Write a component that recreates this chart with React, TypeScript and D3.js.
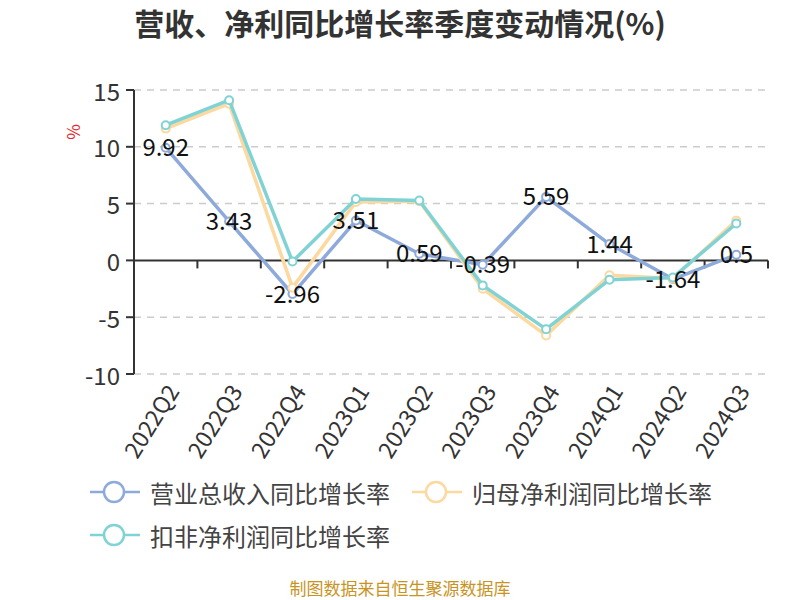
import { line, scaleBand, scaleLinear } from 'd3'

const quarters = ['2022Q2', '2022Q3', '2022Q4', '2023Q1', '2023Q2', '2023Q3', '2023Q4', '2024Q1', '2024Q2', '2024Q3']
const revenueGrowth = [9.92, 3.43, -2.96, 3.51, 0.59, -0.39, 5.59, 1.44, -1.64, 0.5]
const netProfitGrowth = [11.6, 13.8, -2.4, 5.15, 5.2, -2.5, -6.6, -1.3, -1.6, 3.5]
const deductedProfitGrowth = [11.9, 14.1, -0.1, 5.4, 5.27, -2.2, -6.05, -1.7, -1.5, 3.25]
const yTicks = [15, 10, 5, 0, -5, -10]

const seriesList = [
  { name: '营业总收入同比增长率', values: revenueGrowth, color: '#8eaadb' },
  { name: '归母净利润同比增长率', values: netProfitGrowth, color: '#fdd89f' },
  { name: '扣非净利润同比增长率', values: deductedProfitGrowth, color: '#80d3d5' },
]

const FONT = '"Noto Sans CJK SC", "Noto Sans", sans-serif'

export default function App() {
  const width = 800
  const height = 600
  const left = 134
  const right = 768
  const top = 90
  const bottom = 374

  const xScale = scaleBand<string>().domain(quarters).range([left, right])
  const yScale = scaleLinear().domain([-10, 15]).range([bottom, top])
  const cx = (i: number) => (xScale(quarters[i]) ?? 0) + xScale.bandwidth() / 2
  const zeroY = yScale(0)

  const pathFor = (values: number[]) =>
    line<number>()
      .x((_, i) => cx(i))
      .y((v) => yScale(v))(values) ?? ''

  const legendItems = [
    { s: seriesList[0], x: 90, y: 492 },
    { s: seriesList[1], x: 412, y: 492 },
    { s: seriesList[2], x: 90, y: 535 },
  ]

  return (
    <svg width={width} height={height} style={{ position: 'absolute', left: 0, top: 0, fontFamily: FONT }}>
      <rect width={width} height={height} fill="#fff" />
      <text x={400} y={22} textAnchor="middle" dominantBaseline="central" fontSize={30} fontWeight="bold" fill="#333">
        营收、净利同比增长率季度变动情况(%)
      </text>

      {yTicks.map((t) => (
        <g key={t}>
          {t !== 0 && (
            <line x1={left} x2={right} y1={yScale(t)} y2={yScale(t)} stroke="#ccc" strokeWidth={1.5} strokeDasharray="7,6" />
          )}
          <line x1={left - 8} x2={left} y1={yScale(t)} y2={yScale(t)} stroke="#333" strokeWidth={2} />
          <text x={left - 14} y={yScale(t)} textAnchor="end" dominantBaseline="central" fontSize={24} fill="#333">
            {t}
          </text>
        </g>
      ))}
      <line x1={left} x2={left} y1={top} y2={bottom} stroke="#333" strokeWidth={2} />
      <text
        transform={`translate(72,132) rotate(-90)`}
        textAnchor="middle"
        dominantBaseline="central"
        fontSize={17}
        fill="#e8262b"
      >
        %
      </text>

      <line x1={left} x2={right} y1={zeroY} y2={zeroY} stroke="#333" strokeWidth={2} />
      {quarters.map((q) => (
        <line
          key={q}
          x1={(xScale(q) ?? 0) + xScale.bandwidth()}
          x2={(xScale(q) ?? 0) + xScale.bandwidth()}
          y1={zeroY}
          y2={zeroY + 8}
          stroke="#333"
          strokeWidth={2}
        />
      ))}
      {quarters.map((q, i) => (
        <text
          key={q}
          transform={`translate(${cx(i) + 6},${bottom + 12}) rotate(-58)`}
          textAnchor="end"
          dominantBaseline="central"
          fontSize={23}
          fill="#333"
        >
          {q}
        </text>
      ))}

      {seriesList.map((s) => (
        <g key={s.name}>
          <path d={pathFor(s.values)} fill="none" stroke={s.color} strokeWidth={3.5} strokeLinejoin="round" />
          {s.values.map((v, i) => (
            <circle key={i} cx={cx(i)} cy={yScale(v)} r={4} fill="#fff" stroke={s.color} strokeWidth={2} />
          ))}
        </g>
      ))}

      {revenueGrowth.map((v, i) => (
        <text key={i} x={cx(i)} y={yScale(v) - 2} textAnchor="middle" dominantBaseline="central" fontSize={24} fill="#111">
          {v}
        </text>
      ))}

      {legendItems.map(({ s, x, y }) => (
        <g key={s.name}>
          <line x1={x} x2={x + 50} y1={y} y2={y} stroke={s.color} strokeWidth={2.5} />
          <circle cx={x + 24} cy={y} r={10} fill="#fff" stroke={s.color} strokeWidth={2.5} />
          <text x={x + 60} y={y} dominantBaseline="central" fontSize={24} fill="#444">
            {s.name}
          </text>
        </g>
      ))}

      <text x={400} y={587} textAnchor="middle" dominantBaseline="central" fontSize={17} fill="#c8941f">
        制图数据来自恒生聚源数据库
      </text>
    </svg>
  )
}
